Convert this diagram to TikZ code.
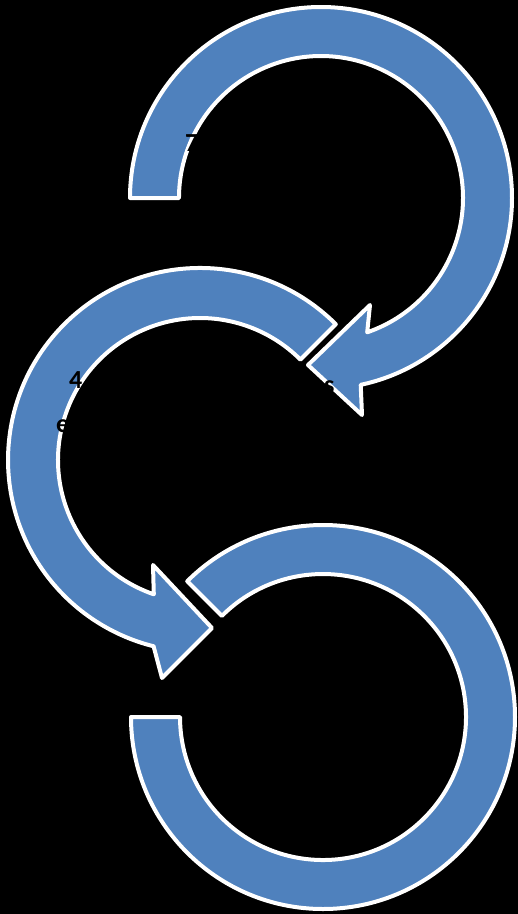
\documentclass[tikz,border=0pt]{standalone}
\usepackage{fontspec}
\setmainfont{Carlito}
\definecolor{arrowblue}{RGB}{79,129,189}
\begin{document}
\begin{tikzpicture}[x=1pt,y=1pt,
  carrow/.style={fill=arrowblue,draw=white,line width=4pt,line join=round},
  txt/.style={text=black,font=\fontsize{26}{30}\selectfont\bfseries,inner sep=0pt}]
\fill[black] (0,0) rectangle (518,-914);
\useasboundingbox (0,0) rectangle (518,-914);
% top circular arrow
\path[carrow] (130,-198) arc[start angle=180,end angle=-78,radius=191]
  -- (362,-415) -- (308,-365) -- (370,-305) -- (367.2,-332.3)
  arc[start angle=-71,end angle=180,radius=142] -- cycle;
% middle circular arrow
\path[carrow] (335.8,-324.2) arc[start angle=45,end angle=256,radius=192]
  -- (162,-678) -- (212,-628) -- (153,-565) -- (153.8,-594.3)
  arc[start angle=251,end angle=45,radius=142] -- cycle;
% bottom circular band
\path[carrow] (131,-717) arc[start angle=180,end angle=495,radius=192]
  -- (221.9,-615.9) arc[start angle=495,end angle=180,radius=143] -- cycle;
% black text (visible only over the arrows)
\node[txt,anchor=base west] (t7) at (185,-151) {7};
\node[txt,anchor=base west] (t4) at (69,-388) {4};
\node[txt,anchor=base west] (ts) at (324,-393) {s};
\node[txt,anchor=base west] (te) at (56,-432) {e};
\end{tikzpicture}
\end{document}
